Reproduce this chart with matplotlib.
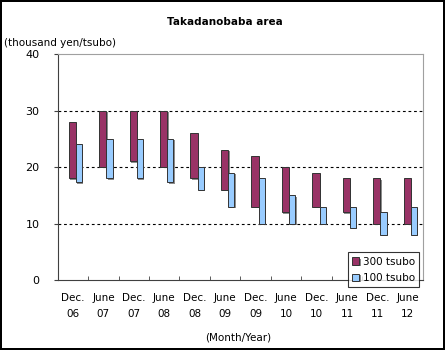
import matplotlib
matplotlib.use('Agg')
import matplotlib.pyplot as plt
import matplotlib.patheffects as pe
import numpy as np

categories = ['Dec.\n06', 'June\n07', 'Dec.\n07', 'June\n08', 'Dec.\n08', 'June\n09',
              'Dec.\n09', 'June\n10', 'Dec.\n10', 'June\n11', 'Dec.\n11', 'June\n12']

# price ranges (thousand yen/tsubo)
high300 = [28, 30, 30, 30, 26, 23, 22, 20, 19, 18, 18, 18]
low300 = [18, 20, 21, 20, 18, 16, 13, 12, 13, 12, 10, 10]
high100 = [24, 25, 25, 25, 20, 19, 18, 15, 13, 13, 12, 13]
low100 = [17.3, 18, 18, 17.3, 16, 13, 10, 10, 10, 9.2, 8, 8]

fig = plt.figure(figsize=(4.45, 3.5), dpi=100)
fig.patch.set_edgecolor('black')
fig.patch.set_linewidth(1.5)
ax = fig.add_axes([0.1297, 0.2, 0.821, 0.6457])

x = np.arange(len(categories))
shadow = [pe.SimplePatchShadow(offset=(1, -1), shadow_rgbFace='#808080', alpha=0.9), pe.Normal()]

b1 = ax.bar(x - 0.14, np.array(high300) - np.array(low300), bottom=low300, width=0.24,
            align='edge', color='#993366', edgecolor='#333333', linewidth=0.7, label='300 tsubo', zorder=3)
b2 = ax.bar(x + 0.10, np.array(high100) - np.array(low100), bottom=low100, width=0.2,
            align='edge', color='#99CCFF', edgecolor='#333333', linewidth=0.7, label='100 tsubo', zorder=3)
for p in list(b1) + list(b2):
    p.set_path_effects(shadow)

ax.set_xlim(-0.5, len(categories) - 0.5)
ax.set_ylim(0, 40)
ax.set_yticks([0, 10, 20, 30, 40])
for yv in [10, 20, 30]:
    ax.axhline(yv, color='black', linewidth=0.8, linestyle=(0, (2.5, 2.5)), zorder=1)

ax.set_xticks(x)
ax.set_xticklabels(categories, fontsize=7.5, linespacing=1.7)
ax.tick_params(axis='x', which='major', length=0, pad=9.5)
ax.set_xticks(np.arange(-0.5, len(categories)), minor=True)
ax.tick_params(axis='x', which='minor', direction='in', length=3, color='#404040')
ax.tick_params(axis='y', direction='out', length=3, pad=10, labelsize=8, color='#404040')

for s in ['left', 'bottom']:
    ax.spines[s].set_color('#404040')
for s in ['top', 'right']:
    ax.spines[s].set_color('#a0a0a0')

fig.text(0.506, 0.937, 'Takadanobaba area', ha='center', va='center', fontsize=7.5, fontweight='bold')
fig.text(0.009, 0.877, '(thousand yen/tsubo)', ha='left', va='center', fontsize=7.5)
fig.text(0.536, 0.037, '(Month/Year)', ha='center', va='center', fontsize=7.5)

leg = fig.legend(handles=[b1, b2], loc='lower left', bbox_to_anchor=(348 / 445, 1 - 287 / 350),
                 fontsize=7.5, frameon=True, fancybox=False, handlelength=0.7, handleheight=0.7,
                 handletextpad=0.3, borderpad=0.4, labelspacing=0.6, borderaxespad=0)
leg.get_frame().set_edgecolor('black')
leg.get_frame().set_linewidth(0.8)

fig.savefig('out.png', dpi=100)
